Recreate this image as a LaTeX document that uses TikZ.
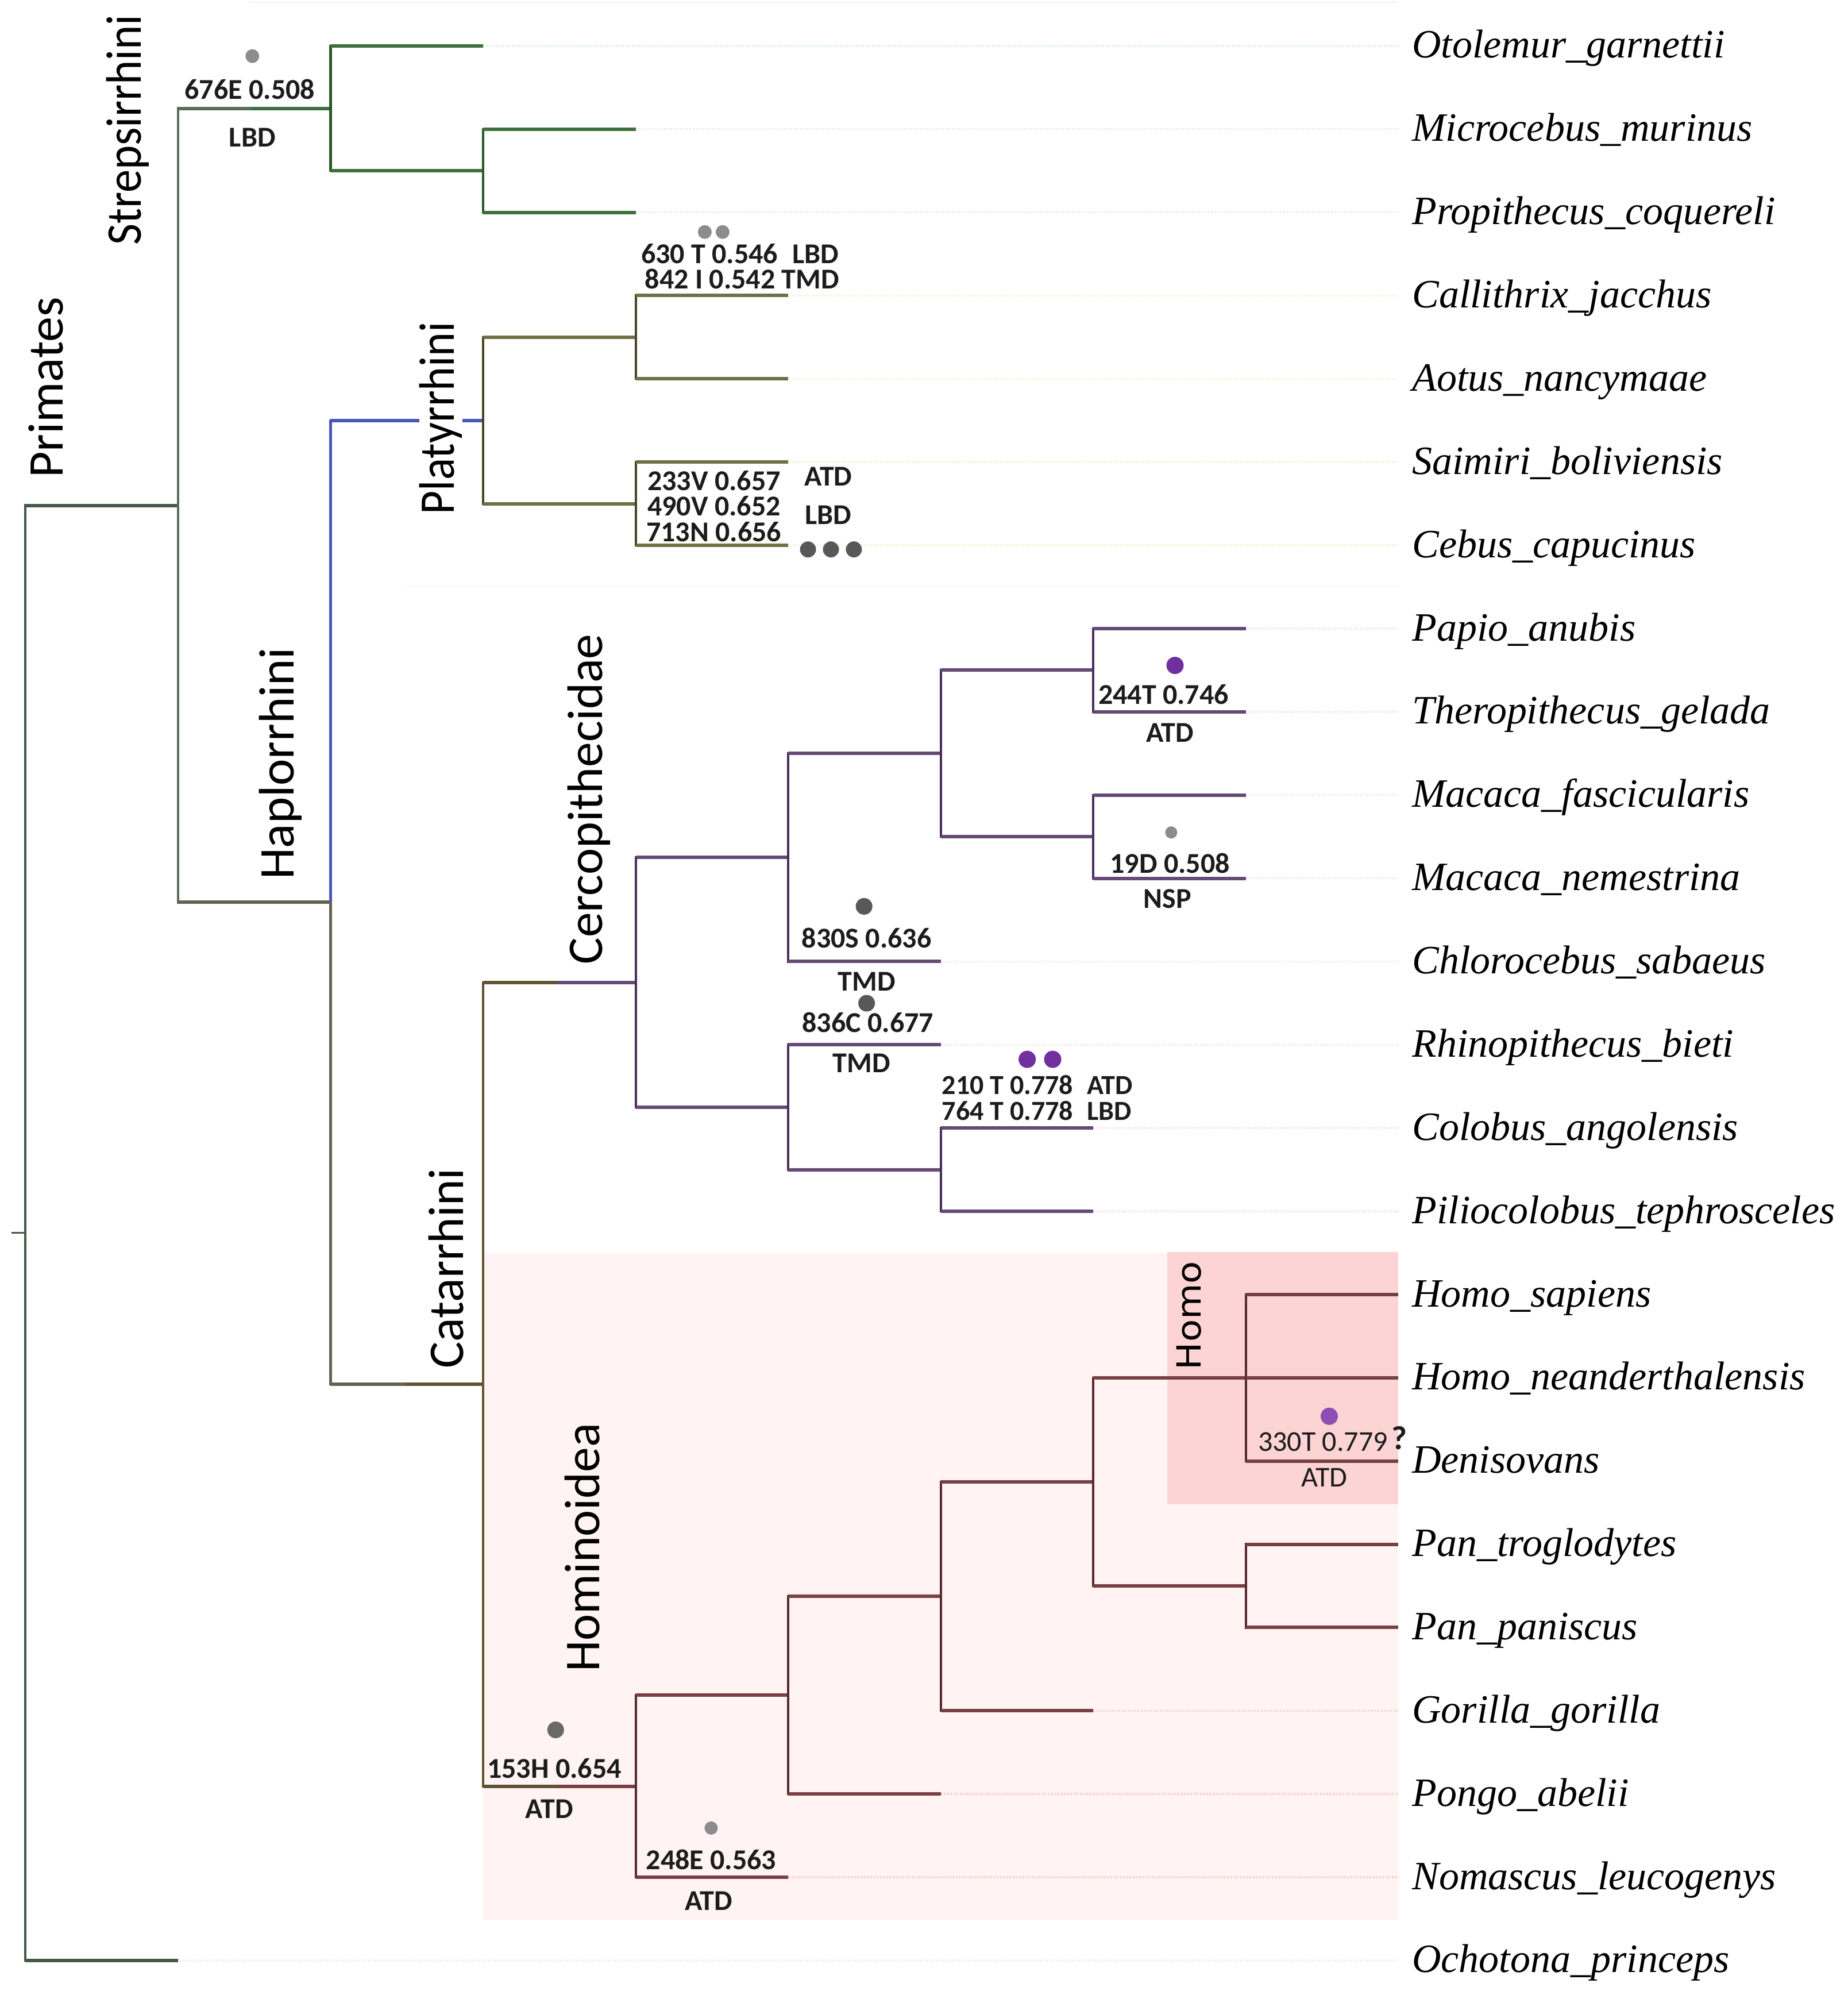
\documentclass[tikz,border=0pt]{standalone}
\usepackage{fontspec}
\usepackage{graphicx}
\setmainfont{Liberation Serif}
\newfontfamily\taxfont{Liberation Serif}[ItalicFont={Liberation Serif Italic}]
\newfontfamily\annfont{Carlito}
\newfontfamily\homofont{DejaVu Sans}
\definecolor{rootc}{RGB}{70,88,70}
\definecolor{primc}{RGB}{92,108,92}
\definecolor{strepv}{RGB}{40,88,40}
\definecolor{streph}{RGB}{62,112,62}
\definecolor{hapblue}{RGB}{74,86,184}
\definecolor{hapgray}{RGB}{98,98,82}
\definecolor{platv}{RGB}{70,70,38}
\definecolor{plath}{RGB}{112,112,70}
\definecolor{catc}{RGB}{96,82,50}
\definecolor{cercv}{RGB}{72,46,88}
\definecolor{cerch}{RGB}{100,74,116}
\definecolor{homv}{RGB}{88,40,44}
\definecolor{homh}{RGB}{120,64,68}
\definecolor{extstrep}{RGB}{226,244,226}
\definecolor{extplat}{RGB}{245,245,218}
\definecolor{extcerc}{RGB}{247,230,247}
\definecolor{exthom}{RGB}{246,208,208}
\definecolor{extroot}{RGB}{238,242,238}
\definecolor{bgstrepl}{RGB}{232,246,232}
\definecolor{bgline}{RGB}{250,247,240}
\definecolor{bghom}{RGB}{255,243,243}
\definecolor{bghomo}{RGB}{252,212,212}
\definecolor{anntext}{RGB}{28,28,28}
\definecolor{dotlight}{RGB}{140,140,140}
\definecolor{dotmid}{RGB}{105,105,105}
\definecolor{dotdark}{RGB}{88,88,88}
\definecolor{dotpurple}{RGB}{112,48,160}
\definecolor{dotpurplel}{RGB}{142,79,181}
\begin{document}
\begin{tikzpicture}[x=2.2186pt,y=-2.2186pt,
  hl/.style={line width=6pt},
  vl/.style={line width=4.2pt, line cap=rect},
  ext/.style={line width=3.5pt, dash pattern=on 3pt off 2.5pt},
  mdot/.style={circle, inner sep=0pt, minimum size=#1, draw=none},
  ann/.style={font=\annfont\bfseries\fontsize{50}{60}\selectfont, inner sep=0pt, text=anntext},
  annr/.style={font=\annfont\fontsize{50}{60}\selectfont, inner sep=0pt, text=anntext},
  anns/.style={font=\annfont\bfseries\fontsize{48}{56}\selectfont, inner sep=0pt, text=anntext},
  taxon/.style={font=\taxfont\itshape\fontsize{70}{84}\selectfont, anchor=base west, inner sep=0pt},
  clade/.style={font=\annfont\fontsize{87}{100}\selectfont, rotate=90, inner sep=0pt},
]
\useasboundingbox (0,0) rectangle (1450,1565);
\fill[white] (0,0) rectangle (1450,1565);
% ---------- background boxes
\draw[bgstrepl, line width=2pt] (195,2) -- (1097,2);
\draw[bgline, line width=2pt] (318,460) -- (1097,460);
\fill[bghom] (379,983) rectangle (1097,1506);
\fill[bghomo] (916,982) rectangle (1097,1180);
% ---------- tips
\coordinate (t1) at (379.1,36);
\coordinate (t2) at (498.8,101.3);
\coordinate (t3) at (498.8,166.6);
\coordinate (t4) at (618.5,231.9);
\coordinate (t5) at (618.5,297.2);
\coordinate (t6) at (618.5,362.5);
\coordinate (t7) at (618.5,427.8);
\coordinate (t8) at (977.6,493.1);
\coordinate (t9) at (977.6,558.4);
\coordinate (t10) at (977.6,623.7);
\coordinate (t11) at (977.6,689.0);
\coordinate (t12) at (738.2,754.3);
\coordinate (t13) at (738.2,819.6);
\coordinate (t14) at (857.9,884.9);
\coordinate (t15) at (857.9,950.2);
\coordinate (t16) at (1097.3,1015.5);
\coordinate (t17) at (1097.3,1080.8);
\coordinate (t18) at (1097.3,1146.1);
\coordinate (t19) at (1097.3,1211.4);
\coordinate (t20) at (1097.3,1276.7);
\coordinate (t21) at (857.9,1342.0);
\coordinate (t22) at (738.2,1407.3);
\coordinate (t23) at (618.5,1472.6);
\coordinate (t24) at (139.7,1537.9);
% ---------- internal nodes
\coordinate (nS1) at (379.1,133.95);
\coordinate (nS) at (259.4,84.98);
\coordinate (nCal) at (498.8,264.55);
\coordinate (nSai) at (498.8,395.15);
\coordinate (nPlat) at (379.1,329.85);
\coordinate (nPap) at (857.9,525.75);
\coordinate (nMac) at (857.9,656.35);
\coordinate (nPM) at (738.2,591.05);
\coordinate (nC1) at (618.5,672.68);
\coordinate (nCol) at (738.2,917.55);
\coordinate (nColob) at (618.5,868.58);
\coordinate (nCerc) at (498.8,770.63);
\coordinate (nHomo) at (977.6,1080.8);
\coordinate (nPan) at (977.6,1244.05);
\coordinate (nHP) at (857.9,1162.43);
\coordinate (nHPG) at (738.2,1252.2);
\coordinate (nHPGP) at (618.5,1329.75);
\coordinate (nHom) at (498.8,1401.18);
\coordinate (nCat) at (379.1,1085.9);
\coordinate (nHap) at (259.4,707.88);
\coordinate (nPrim) at (139.7,396.43);
\coordinate (root) at (20,967.2);
\coordinate (stub) at (9,967.2);
\coordinate (sp1) at (197,84.98);
\coordinate (cp1) at (318,1085.9);
\coordinate (cp2) at (437,770.63);
\coordinate (cp3) at (437,1401.18);
% ---------- dotted extensions
\foreach \t in {t1,t2,t3} \draw[ext,extstrep] (\t) -- (\t -| t16);
\foreach \t in {t4,t5,t6,t7} \draw[ext,extplat] (\t) -- (\t -| t16);
\foreach \t in {t8,t9,t10,t11,t12,t13,t14,t15} \draw[ext,extcerc] (\t) -- (\t -| t16);
\foreach \t in {t21,t22,t23} \draw[ext,exthom] (\t) -- (\t -| t16);
\draw[ext,extroot] (t24) -- (t24 -| t16);
% ---------- root
\draw[vl,rootc] (root |- nPrim) -- (root |- t24);
\draw[hl,rootc] (root |- nPrim) -- (nPrim);
\draw[hl,rootc] (root |- t24) -- (t24);
\draw[line width=3pt,rootc] (stub) -- (root);
% ---------- Primates
\draw[vl,primc] (nPrim |- nS) -- (nPrim |- nHap);
\draw[hl,primc] (nPrim |- nS) -- (sp1);
\draw[hl,streph] (sp1) -- (nS);
\draw[hl,hapgray] (nPrim |- nHap) -- (nHap);
% ---------- Strepsirrhini
\draw[vl,strepv] (nS |- t1) -- (nS |- nS1);
\draw[hl,streph] (nS |- t1) -- (t1);
\draw[hl,streph] (nS |- nS1) -- (nS1);
\draw[vl,strepv] (nS1 |- t2) -- (nS1 |- t3);
\draw[hl,streph] (nS1 |- t2) -- (t2);
\draw[hl,streph] (nS1 |- t3) -- (t3);
% ---------- Haplorrhini
\draw[vl,hapblue] (nHap |- nPlat) -- (nHap);
\draw[vl,hapgray] (nHap) -- (nHap |- nCat);
\draw[hl,hapblue] (nHap |- nPlat) -- (nPlat);
\draw[hl,hapgray] (nHap |- nCat) -- (cp1);
\draw[hl,catc] (cp1) -- (nCat);
% ---------- Platyrrhini
\draw[vl,platv] (nPlat |- nCal) -- (nPlat |- nSai);
\draw[hl,plath] (nPlat |- nCal) -- (nCal);
\draw[hl,plath] (nPlat |- nSai) -- (nSai);
\draw[vl,platv] (nCal |- t4) -- (nCal |- t5);
\draw[hl,plath] (nCal |- t4) -- (t4);
\draw[hl,plath] (nCal |- t5) -- (t5);
\draw[vl,platv] (nSai |- t6) -- (nSai |- t7);
\draw[hl,plath] (nSai |- t6) -- (t6);
\draw[hl,plath] (nSai |- t7) -- (t7);
% ---------- Catarrhini
\draw[vl,catc] (nCat |- nCerc) -- (nCat |- nHom);
\draw[hl,catc] (nCat |- nCerc) -- (cp2);
\draw[hl,cerch] (cp2) -- (nCerc);
\draw[hl,catc] (nCat |- nHom) -- (cp3);
\draw[hl,homh] (cp3) -- (nHom);
% ---------- Cercopithecidae
\draw[vl,cercv] (nCerc |- nC1) -- (nCerc |- nColob);
\draw[hl,cerch] (nCerc |- nC1) -- (nC1);
\draw[hl,cerch] (nCerc |- nColob) -- (nColob);
\draw[vl,cercv] (nC1 |- nPM) -- (nC1 |- t12);
\draw[hl,cerch] (nC1 |- nPM) -- (nPM);
\draw[hl,cerch] (nC1 |- t12) -- (t12);
\draw[vl,cercv] (nPM |- nPap) -- (nPM |- nMac);
\draw[hl,cerch] (nPM |- nPap) -- (nPap);
\draw[hl,cerch] (nPM |- nMac) -- (nMac);
\draw[vl,cercv] (nPap |- t8) -- (nPap |- t9);
\draw[hl,cerch] (nPap |- t8) -- (t8);
\draw[hl,cerch] (nPap |- t9) -- (t9);
\draw[vl,cercv] (nMac |- t10) -- (nMac |- t11);
\draw[hl,cerch] (nMac |- t10) -- (t10);
\draw[hl,cerch] (nMac |- t11) -- (t11);
\draw[vl,cercv] (nColob |- t13) -- (nColob |- nCol);
\draw[hl,cerch] (nColob |- t13) -- (t13);
\draw[hl,cerch] (nColob |- nCol) -- (nCol);
\draw[vl,cercv] (nCol |- t14) -- (nCol |- t15);
\draw[hl,cerch] (nCol |- t14) -- (t14);
\draw[hl,cerch] (nCol |- t15) -- (t15);
% ---------- Hominoidea
\draw[vl,homv] (nHom |- nHPGP) -- (nHom |- t23);
\draw[hl,homh] (nHom |- nHPGP) -- (nHPGP);
\draw[hl,homh] (nHom |- t23) -- (t23);
\draw[vl,homv] (nHPGP |- nHPG) -- (nHPGP |- t22);
\draw[hl,homh] (nHPGP |- nHPG) -- (nHPG);
\draw[hl,homh] (nHPGP |- t22) -- (t22);
\draw[vl,homv] (nHPG |- nHP) -- (nHPG |- t21);
\draw[hl,homh] (nHPG |- nHP) -- (nHP);
\draw[hl,homh] (nHPG |- t21) -- (t21);
\draw[vl,homv] (nHP |- nHomo) -- (nHP |- nPan);
\draw[hl,homh] (nHP |- nHomo) -- (nHomo);
\draw[hl,homh] (nHP |- nPan) -- (nPan);
\draw[vl,homv] (nHomo |- t16) -- (nHomo |- t18);
\draw[hl,homh] (nHomo |- t16) -- (t16);
\draw[hl,homh] (nHomo |- t17) -- (t17);
\draw[hl,homh] (nHomo |- t18) -- (t18);
\draw[vl,homv] (nPan |- t19) -- (nPan |- t20);
\draw[hl,homh] (nPan |- t19) -- (t19);
\draw[hl,homh] (nPan |- t20) -- (t20);
% ---------- clade labels
\node[clade] (cPrim) at (36,304) {\resizebox{315pt}{\height}{Primates}};
\node[clade] (cStrep) at (100,102) {\resizebox{401pt}{\height}{Strepsirrhini}};
\node[clade, fill=white] (cPlat) at (346,328) {\resizebox{335pt}{\height}{Platyrrhini}};
\node[clade] (cHap) at (220,599) {\resizebox{404pt}{\height}{Haplorrhini}};
\node[clade] (cCerc) at (462,627) {\resizebox{575pt}{\height}{Cercopithecidae}};
\node[clade] (cCat) at (350,995) {\resizebox{348pt}{\height}{Catarrhini}};
\node[clade] (cHom) at (457,1214) {\resizebox{433pt}{\height}{Hominoidea}};
\node[font=\homofont\fontsize{58}{66}\selectfont, rotate=90, inner sep=0pt] (cHomo) at (933,1032) {\resizebox{189pt}{\height}{Homo}};
% ---------- taxa
\node[taxon] (L1) at (1108,45.5) {Otolemur\_garnettii};
\node[taxon] (L2) at (1108,110.8) {Microcebus\_murinus};
\node[taxon] (L3) at (1108,176.1) {Propithecus\_coquereli};
\node[taxon] (L4) at (1108,241.4) {Callithrix\_jacchus};
\node[taxon] (L5) at (1108,306.7) {Aotus\_nancymaae};
\node[taxon] (L6) at (1108,372.0) {Saimiri\_boliviensis};
\node[taxon] (L7) at (1108,437.3) {Cebus\_capucinus};
\node[taxon] (L8) at (1108,502.6) {Papio\_anubis};
\node[taxon] (L9) at (1108,567.9) {Theropithecus\_gelada};
\node[taxon] (L10) at (1108,633.2) {Macaca\_fascicularis};
\node[taxon] (L11) at (1108,698.5) {Macaca\_nemestrina};
\node[taxon] (L12) at (1108,763.8) {Chlorocebus\_sabaeus};
\node[taxon] (L13) at (1108,829.1) {Rhinopithecus\_bieti};
\node[taxon] (L14) at (1108,894.4) {Colobus\_angolensis};
\node[taxon] (L15) at (1108,959.7) {Piliocolobus\_tephrosceles};
\node[taxon] (L16) at (1108,1025.0) {Homo\_sapiens};
\node[taxon] (L17) at (1108,1090.3) {Homo\_neanderthalensis};
\node[taxon] (L18) at (1108,1155.6) {Denisovans};
\node[taxon] (L19) at (1108,1220.9) {Pan\_troglodytes};
\node[taxon] (L20) at (1108,1286.2) {Pan\_paniscus};
\node[taxon] (L21) at (1108,1351.5) {Gorilla\_gorilla};
\node[taxon] (L22) at (1108,1416.8) {Pongo\_abelii};
\node[taxon] (L23) at (1108,1482.1) {Nomascus\_leucogenys};
\node[taxon] (L24) at (1108,1547.4) {Ochotona\_princeps};
% ---------- site dots
\node[mdot=24pt, fill=dotlight] (d1) at (198,44) {};
\node[mdot=24pt, fill=dotlight] (d2a) at (553,182) {};
\node[mdot=24pt, fill=dotlight] (d2b) at (567,182) {};
\node[mdot=28pt, fill=dotdark] (d3a) at (634,431) {};
\node[mdot=28pt, fill=dotdark] (d3b) at (652,431) {};
\node[mdot=28pt, fill=dotdark] (d3c) at (670,431) {};
\node[mdot=30pt, fill=dotpurple] (d4) at (922,522) {};
\node[mdot=21pt, fill=dotlight] (d5) at (919,653) {};
\node[mdot=29pt, fill=dotdark] (d6) at (678,711) {};
\node[mdot=29pt, fill=dotdark] (d7) at (680,787) {};
\node[mdot=30pt, fill=dotpurple] (d8a) at (806,831) {};
\node[mdot=30pt, fill=dotpurple] (d8b) at (826,831) {};
\node[mdot=30pt, fill=dotpurplel] (d9) at (1043,1111) {};
\node[mdot=29pt, fill=dotmid] (d10) at (436,1357) {};
\node[mdot=23pt, fill=dotlight] (d11) at (558,1434) {};
% ---------- site annotations
\node[ann] (a1) at (196,70) {676E 0.508};
\node[ann] (a2) at (198,108) {LBD};
\node[ann, anchor=west] (a3) at (503,199) {630 T 0.546\hspace{0.5em}LBD};
\node[ann, anchor=west] (a4) at (506,219) {842 I 0.542 TMD};
\node[ann, anchor=west] (a5) at (508,377) {233V 0.657};
\node[ann, anchor=west] (a6) at (508,397) {490V 0.652};
\node[ann, anchor=west] (a7) at (507,417) {713N 0.656};
\node[ann] (a8) at (650,374) {ATD};
\node[ann] (a9) at (650,404) {LBD};
\node[ann] (a10) at (913,545) {244T 0.746};
\node[ann] (a11) at (918,575) {ATD};
\node[ann] (a12) at (918,677) {19D 0.508};
\node[ann] (a13) at (916,705) {NSP};
\node[ann] (a14) at (680,736) {830S 0.636};
\node[ann] (a15) at (680,770) {TMD};
\node[ann] (a16) at (681,802) {836C 0.677};
\node[ann] (a17) at (676,834) {TMD};
\node[anns, anchor=west] (a18) at (739,851) {210 T 0.778\hspace{0.5em}ATD};
\node[anns, anchor=west] (a19) at (739,871.5) {764 T 0.778\hspace{0.5em}LBD};
\node[annr] (a20) at (1038,1131) {330T 0.779};
\node[ann, font=\annfont\bfseries\fontsize{58}{66}\selectfont] (a21) at (1098,1128) {?};
\node[annr] (a22) at (1039,1159) {ATD};
\node[ann] (a23) at (435,1387) {153H 0.654};
\node[ann] (a24) at (431,1419) {ATD};
\node[ann] (a25) at (558,1459) {248E 0.563};
\node[ann] (a26) at (556,1491) {ATD};
\end{tikzpicture}
\end{document}
